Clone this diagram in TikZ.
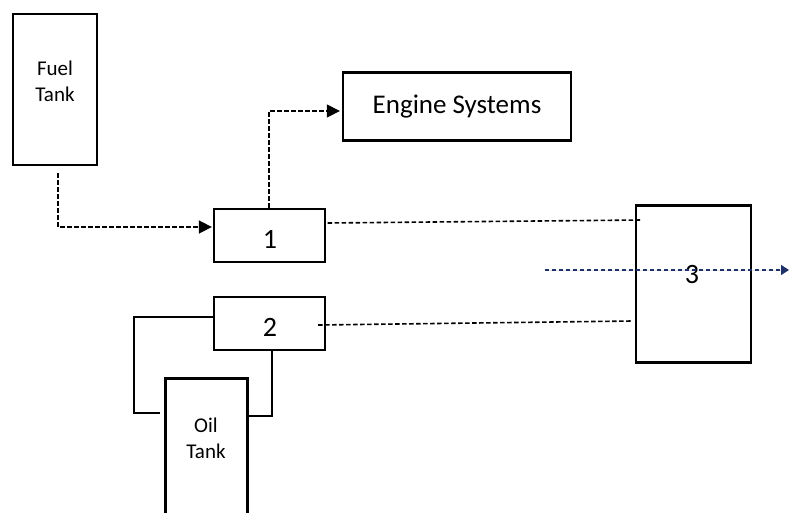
\documentclass[tikz,border=0pt]{standalone}
\usepackage{fontspec}
\setmainfont{Carlito}
\usetikzlibrary{arrows.meta}
\definecolor{navy}{RGB}{30,50,105}
\begin{document}
\begin{tikzpicture}[x=1pt,y=-1pt,
  box/.style={draw, line width=2.3pt, inner sep=0pt},
  tanktext/.style={align=center, font=\fontsize{21}{26}\selectfont, inner sep=0pt},
  numtext/.style={font=\fontsize{28}{30}\selectfont, inner sep=0pt},
  dsh/.style={line width=1.6pt, dash pattern=on 4.5pt off 2.5pt},
  tip/.style={-{Triangle[length=13pt,width=13pt]}},
  bluedsh/.style={draw=navy, line width=1.2pt, dash pattern=on 4pt off 3pt},
  solidline/.style={line width=1.3pt}]
\clip (0,0) rectangle (789,512);
\fill[white] (0,0) rectangle (789,512);
% boxes
\node[box, minimum width=84pt, minimum height=151pt] (fuel) at (55,89.5) {};
\node[tanktext] (fuellbl) at (55,81) {Fuel\\Tank};
\node[box, minimum width=111pt, minimum height=53pt] (b1) at (269.5,235.5) {};
\node[numtext] (b1lbl) at (270,239) {1};
\node[box, minimum width=228pt, minimum height=68pt, font=\fontsize{27}{30}\selectfont] (eng) at (457,106.5) {Engine Systems};
\node[box, minimum width=111pt, minimum height=53pt] (b2) at (269.5,323.5) {};
\node[numtext] (b2lbl) at (270,327) {2};
\node[box, minimum width=115pt, minimum height=157pt] (b3) at (693.5,284) {};
\node[box, minimum width=82pt, minimum height=162pt] (oil) at (206.5,459.5) {};
\node[tanktext] (oillbl) at (206,438) {Oil\\Tank};
% connectors
\draw[dsh, tip] ([xshift=3pt,yshift=-7pt]fuel.south) |- ([xshift=-1pt,yshift=8.5pt]b1.west);
\draw[dsh, line width=1.2pt, tip] ([xshift=-0.5pt]b1.north) |- ([xshift=-2pt,yshift=-4.5pt]eng.west);
\draw[dsh] ([xshift=1.5pt,yshift=12.5pt]b1.east) -- ([xshift=7pt,yshift=64pt]b3.west);
\draw[dsh] ([xshift=-8pt,yshift=-1.5pt]b2.east) -- ([xshift=-3pt,yshift=-37pt]b3.west);
\coordinate (bstart) at (545,270);
\coordinate (bend) at (789,270);
\node[numtext] (b3lbl) at (692,275) {3};
\draw[bluedsh, -{Triangle[length=8pt,width=10pt]}, fill=navy] (bstart) -- (bend);
\coordinate (oilL) at (160,413);
\coordinate (oilR) at (248,416);
\draw[solidline] ([yshift=6.5pt]b2.west) -- (134,317) -- (134,413) -- (oilL);
\draw[solidline] ([xshift=2.5pt]b2.south) |- (oilR);
\end{tikzpicture}
\end{document}
